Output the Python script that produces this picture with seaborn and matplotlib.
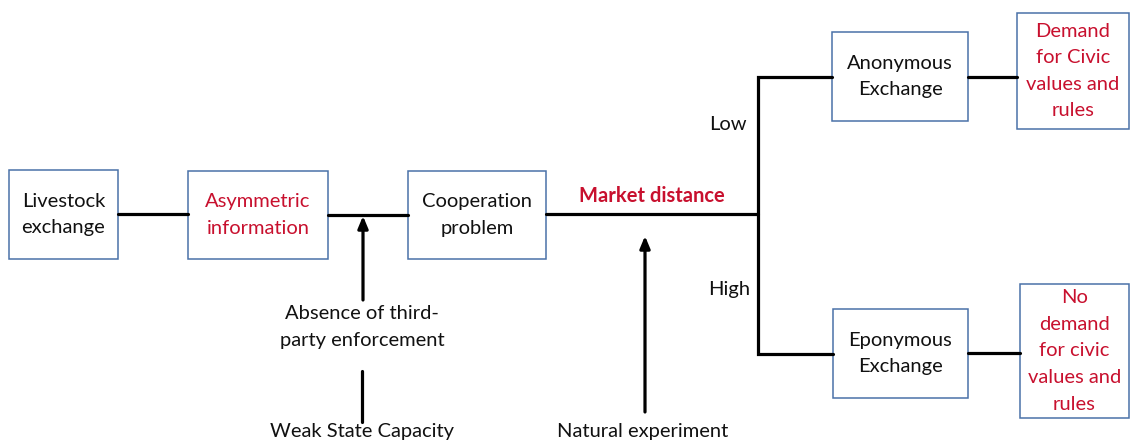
import matplotlib
matplotlib.use("Agg")
import matplotlib.pyplot as plt
import seaborn as sns
from matplotlib.patches import Rectangle

## node texts (red = highlighted concepts)
box_labels = ["Livestock\nexchange", "Asymmetric\ninformation", "Cooperation\nproblem",
              "Anonymous\nExchange", "Eponymous\nExchange",
              "Demand\nfor Civic\nvalues and\nrules", "No\ndemand\nfor civic\nvalues and\nrules"]
box_red = [False, True, False, False, False, True, True]
branch_labels = ["Low", "High"]
edge_label = "Market distance"
cause_labels = ["Absence of third-\nparty enforcement", "Weak State Capacity", "Natural experiment"]

## layout in pixels (x0, y0, x1, y1), image coords with y downwards
box_pos = [(9, 170, 118, 259), (188, 171, 328, 259), (408, 171, 546, 259),
           (832, 32, 968, 121), (833, 309, 968, 398),
           (1017, 13, 1129, 129), (1020, 284, 1129, 418)]

RED = "#c8102e"
BLUE = "#4a72a8"
FS = 14.5
LS = 1.68

sns.set_theme(style="white")
plt.rcParams["font.family"] = ["Lato", "DejaVu Sans"]

fig = plt.figure(figsize=(11.31, 4.41), dpi=100)
ax = fig.add_axes([0, 0, 1, 1])
ax.set_xlim(0, 1131)
ax.set_ylim(441, 0)
ax.axis("off")

lw = 2.3
# connectors
ax.plot([118, 188], [214, 214], color="black", lw=lw)
ax.plot([328, 408], [215, 215], color="black", lw=lw)
ax.plot([546, 758], [214, 214], color="black", lw=lw)
ax.plot([832, 758, 758, 833], [77, 77, 354, 354], color="black", lw=lw,
        solid_joinstyle="miter")
ax.plot([968, 1017], [77, 77], color="black", lw=lw)
ax.plot([968, 1020], [353, 353], color="black", lw=lw)

# boxes
for lab, red, (x0, y0, x1, y1) in zip(box_labels, box_red, box_pos):
    ax.add_patch(Rectangle((x0, y0), x1 - x0, y1 - y0, fill=False,
                           edgecolor=BLUE, lw=1.1))
    ax.text((x0 + x1) / 2, (y0 + y1) / 2, lab, ha="center", va="center",
            fontsize=FS, color=RED if red else "#111111", linespacing=LS)

ax.text(652, 196, edge_label, ha="center", va="center", fontsize=FS,
        fontweight="bold", color=RED)
ax.text(728, 125, branch_labels[0], ha="center", va="center", fontsize=FS, color="#111111")
ax.text(729, 289, branch_labels[1], ha="center", va="center", fontsize=FS, color="#111111")

# arrows
arrow = dict(arrowstyle="-|>,head_length=0.6,head_width=0.25", color="black", lw=lw,
             shrinkA=0, shrinkB=0)
ax.annotate("", xy=(363, 216), xytext=(363, 300), arrowprops=arrow)
ax.annotate("", xy=(645, 236), xytext=(645, 412), arrowprops=arrow)
ax.plot([362, 362], [371, 422], color="black", lw=lw)

ax.text(362, 327, cause_labels[0], ha="center", va="center", fontsize=FS,
        color="#111111", linespacing=LS)
ax.text(362, 431, cause_labels[1], ha="center", va="center", fontsize=FS, color="#111111")
ax.text(643, 432, cause_labels[2], ha="center", va="center", fontsize=FS, color="#111111")

fig.savefig("out.png", dpi=100)
